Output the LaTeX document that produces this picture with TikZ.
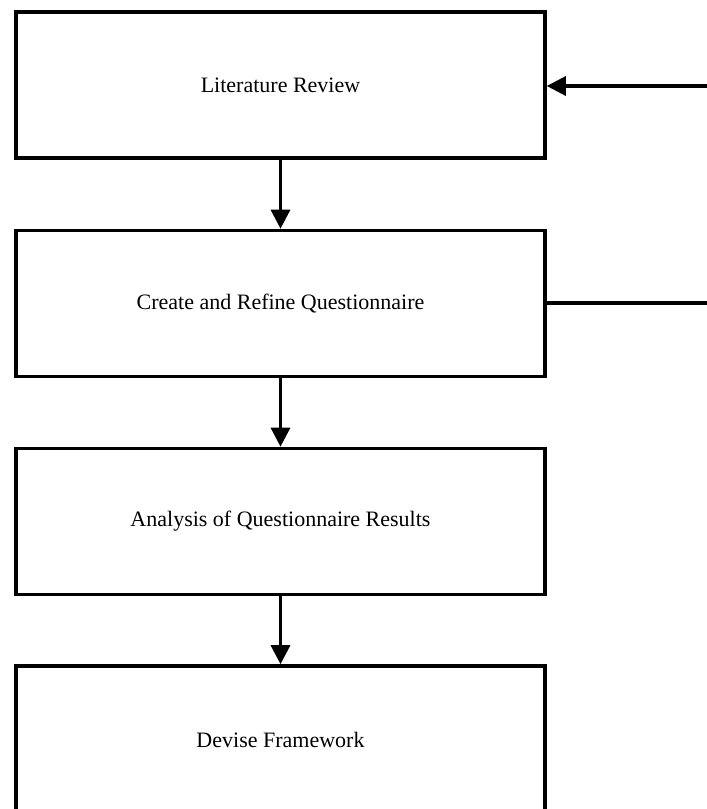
\documentclass[tikz,border=0pt]{standalone}
\usepackage{fontspec}
\setmainfont{Liberation Serif}
\usetikzlibrary{arrows.meta}
\begin{document}
\begin{tikzpicture}[x=1pt,y=-1pt,
  stepbox/.style={draw=black,line width=3.6pt,fill=white,minimum width=529pt,minimum height=146pt,inner sep=0pt,font=\fontsize{22}{26}\selectfont},
  conn/.style={line width=3.2pt},
  arr/.style={conn,-{Triangle[length=19pt,width=19pt]}}]
\clip (0,0) rectangle (707,809);
\useasboundingbox (0,0) rectangle (707,809);
\fill[white] (0,0) rectangle (707,809);
\node[stepbox] (b1) at (280.5,85) {Literature Review};
\node[stepbox] (b2) at (280.5,303.5) {Create and Refine Questionnaire};
\node[stepbox] (b3) at (280.5,521.5) {Analysis of Questionnaire Results};
\node[stepbox,minimum height=300pt] (b4) at (280.5,816) {};
\node[font=\fontsize{22}{26}\selectfont] (t4) at (280.5,740) {Devise Framework};
\coordinate (e1) at (710,86);
\coordinate (e2) at (710,303);
\draw[arr] (b1.south) -- (b2.north);
\draw[arr] (b2.south) -- (b3.north);
\draw[arr] (b3.south) -- (b4.north);
\draw[arr] (e1) -- (b1.east |- e1);
\draw[conn] (b2.east |- e2) -- (e2);
\end{tikzpicture}
\end{document}
